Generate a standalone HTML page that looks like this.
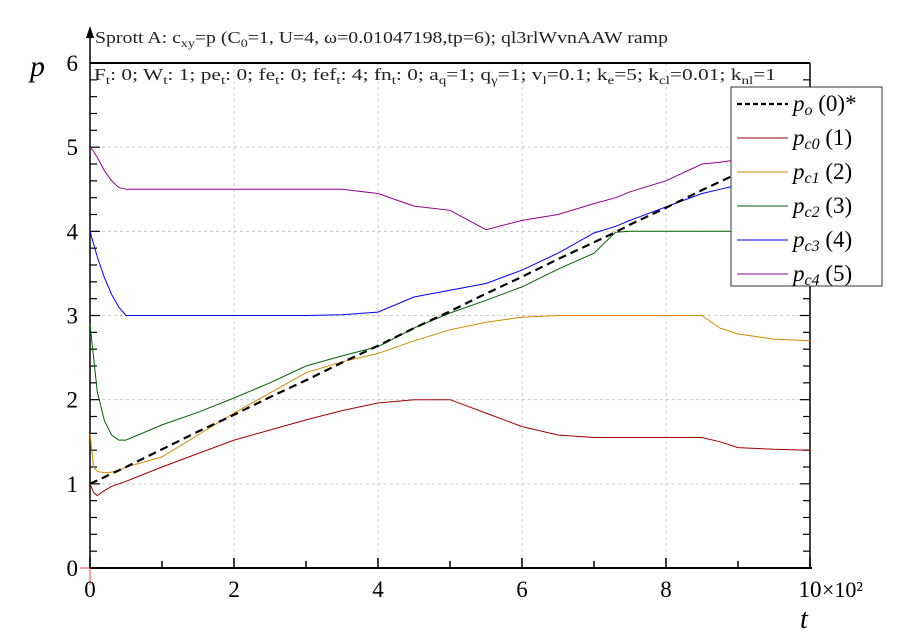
<!DOCTYPE html>
<html><head><meta charset="utf-8"><style>
body{margin:0;background:#fff}
svg{display:block;font-family:"Liberation Serif",serif}
</style></head><body>
<svg width="900" height="633" viewBox="0 0 900 633">
<g id="grid"></g>
<g id="axes"></g>
<g id="series"></g>
<text x="95" y="43" font-size="17" fill="#222" textLength="573" lengthAdjust="spacingAndGlyphs">Sprott A: c<tspan font-size="12" dy="4">xy</tspan><tspan dy="-4">=p (C</tspan><tspan font-size="12" dy="4">0</tspan><tspan dy="-4">=1, U=4, ω=0.01047198,tp=6); ql3rlWvnAAW ramp</tspan></text>
<text x="94" y="80" font-size="17" fill="#222" textLength="682" lengthAdjust="spacingAndGlyphs">F<tspan font-size="12" dy="4">t</tspan><tspan dy="-4">: 0; W</tspan><tspan font-size="12" dy="4">t</tspan><tspan dy="-4">: 1; pe</tspan><tspan font-size="12" dy="4">t</tspan><tspan dy="-4">: 0; fe</tspan><tspan font-size="12" dy="4">t</tspan><tspan dy="-4">: 0; fef</tspan><tspan font-size="12" dy="4">t</tspan><tspan dy="-4">: 4; fn</tspan><tspan font-size="12" dy="4">t</tspan><tspan dy="-4">: 0; a</tspan><tspan font-size="12" dy="4">q</tspan><tspan dy="-4">=1; q</tspan><tspan font-size="12" dy="4">γ</tspan><tspan dy="-4">=1; v</tspan><tspan font-size="12" dy="4">l</tspan><tspan dy="-4">=0.1; k</tspan><tspan font-size="12" dy="4">e</tspan><tspan dy="-4">=5; k</tspan><tspan font-size="12" dy="4">cl</tspan><tspan dy="-4">=0.01; k</tspan><tspan font-size="12" dy="4">nl</tspan><tspan dy="-4">=1</tspan></text>
<text x="30" y="76" font-size="30" font-style="italic">p</text>
<text x="800" y="628" font-size="28" font-style="italic">t</text>
<g>
<rect x="731" y="87" width="151" height="199" fill="#fff" stroke="#333" stroke-width="1"/>
<g id="legend-items"></g>
</g>
</svg>
<script>
const tValues=[0,0.05,0.1,0.2,0.3,0.4,0.5,1,1.5,2,2.5,3,3.5,4,4.5,5,5.5,6,6.5,7,7.3,7.5,8,8.5,8.75,9,9.5,10];
const po=[1,1.02,1.04,1.08,1.12,1.16,1.2,1.41,1.62,1.82,2.03,2.23,2.44,2.64,2.85,3.05,3.26,3.46,3.67,3.87,3.99,4.08,4.28,4.49,4.59,4.69,4.9,5.1];
const pc0=[1.0,0.9,0.86,0.92,0.97,1.0,1.03,1.2,1.36,1.52,1.64,1.76,1.87,1.96,2.0,2.0,1.84,1.68,1.58,1.55,1.55,1.55,1.55,1.55,1.5,1.43,1.41,1.4];
const pc1=[1.6,1.2,1.15,1.13,1.14,1.16,1.2,1.32,1.58,1.84,2.08,2.32,2.45,2.55,2.7,2.83,2.92,2.98,3.0,3.0,3.0,3.0,3.0,3.0,2.85,2.78,2.72,2.7];
const pc2=[2.9,2.5,2.1,1.75,1.58,1.52,1.52,1.7,1.85,2.02,2.2,2.4,2.52,2.63,2.85,3.03,3.18,3.34,3.55,3.74,3.99,4.0,4.0,4.0,4.0,4.0,4.0,4.0];
const pc3=[4.0,3.85,3.7,3.45,3.25,3.1,3.0,3.0,3.0,3.0,3.0,3.0,3.01,3.04,3.22,3.3,3.38,3.54,3.74,3.98,4.06,4.13,4.29,4.45,4.5,4.55,4.6,4.65];
const pc4=[5.0,4.95,4.88,4.72,4.6,4.52,4.5,4.5,4.5,4.5,4.5,4.5,4.5,4.45,4.3,4.25,4.02,4.13,4.2,4.33,4.4,4.47,4.6,4.8,4.82,4.85,4.9,4.95];
const xTickLabels=["0","2","4","6","8","10"];
const yTickLabels=["0","1","2","3","4","5","6"];
const legendLabels=[["o","(0)*"],["c0","(1)"],["c1","(2)"],["c2","(3)"],["c3","(4)"],["c4","(5)"]];

const NS="http://www.w3.org/2000/svg";
const X0=90,X1=810,Y0=568,Y1=63;
function xs(t){return X0+(X1-X0)*t/10;}
function ys(p){return Y0-(Y0-Y1)*p/6;}
function mk(tag,attrs,parent){const e=document.createElementNS(NS,tag);for(const k in attrs)e.setAttribute(k,attrs[k]);parent.appendChild(e);return e;}
const grid=document.getElementById('grid'),axes=document.getElementById('axes'),ser=document.getElementById('series');
for(let i=1;i<5;i++){
 const g=mk('line',{x1:xs(i*2),x2:xs(i*2),y1:Y1,y2:Y0,stroke:'#c8c8c8','stroke-dasharray':'3,3'},grid);
 
 
}
for(let i=1;i<6;i++){
 const g=mk('line',{x1:X0,x2:X1,y1:ys(i),y2:ys(i),stroke:'#c8c8c8','stroke-dasharray':'3,3'},grid);
 
 
}
mk('line',{x1:X0,x2:X1,y1:Y1,y2:Y1,stroke:'#000','stroke-width':2},axes);
mk('line',{x1:X1,x2:X1,y1:Y1,y2:Y0,stroke:'#000','stroke-width':1.5},axes);
mk('line',{x1:X0,x2:X1+2,y1:Y0,y2:Y0,stroke:'#000','stroke-width':2},axes);
mk('line',{x1:X0,x2:X0,y1:Y0,y2:30,stroke:'#000','stroke-width':1.5},axes);
mk('path',{d:`M${X0-4},38 L${X0},26 L${X0+4},38 Z`,fill:'#000'},axes);
mk('line',{x1:80,x2:X0,y1:Y0,y2:Y0,stroke:'#f44','stroke-width':1},axes);
mk('line',{x1:X0,x2:X0,y1:Y0,y2:585,stroke:'#f44','stroke-width':1},axes);
for(let i=0;i<=10;i++){
 const len=i%2===0?10:7;
 mk('line',{x1:xs(i),x2:xs(i),y1:Y0,y2:Y0-len,stroke:'#000','stroke-width':1.5},axes);
}
xTickLabels.forEach((l,i)=>{
 const tx=mk('text',{x:xs(i*2),y:597,'font-size':23,'text-anchor':'middle'},axes);
 tx.textContent=l;
 
 
});
const ex=mk('text',{x:xs(10)+12,y:597,'font-size':22},axes);ex.textContent='×10²';


for(let i=0;i<=30;i++){
 const len=i%5===0?10:7;
 mk('line',{x1:X0,x2:X0+len,y1:ys(i*0.2),y2:ys(i*0.2),stroke:'#000','stroke-width':1.2},axes);
 mk('line',{x1:X1,x2:X1-len,y1:ys(i*0.2),y2:ys(i*0.2),stroke:'#000','stroke-width':1.2},axes);
}
yTickLabels.forEach((l,i)=>{
 const tx=mk('text',{x:78,y:ys(i)+8,'font-size':23,'text-anchor':'end'},axes);
 tx.textContent=l;
 
 
});
function draw(vals,color,name,dash,w,tmax){
 let d='';
 tValues.forEach((t,i)=>{if(t<=tmax)d+=(d?'L':'M')+xs(t).toFixed(1)+','+ys(vals[i]).toFixed(1);});
 const p=mk('path',{d:d,fill:'none',stroke:color,'stroke-width':w},ser);
 if(dash)p.setAttribute('stroke-dasharray',dash);
 
 
}
const colors=['#000','#a00000','#d08a00','#006400','#0000ff','#900090'];
draw(pc0,colors[1],'series-pc0',null,1,10);
draw(pc1,colors[2],'series-pc1',null,1,10);
draw(pc2,colors[3],'series-pc2',null,1,10);
draw(pc3,colors[4],'series-pc3',null,1,10);
draw(pc4,colors[5],'series-pc4',null,1,10);
draw(po,colors[0],'series-po','8,5',2.2,9);
const li=document.getElementById('legend-items');
legendLabels.forEach((l,i)=>{
 const y=104+i*34;
 const ln=mk('line',{x1:737,x2:788,y1:y,y2:y,stroke:colors[i],'stroke-width':i===0?2.2:1},li);
 if(i===0)ln.setAttribute('stroke-dasharray','5,3');
 const tx=mk('text',{x:793,y:y+7,'font-size':23},li);
 tx.innerHTML='<tspan font-style="italic">p</tspan><tspan font-style="italic" font-size="16" dy="4">'+l[0]+'</tspan><tspan dy="-4"> '+l[1]+'</tspan>';
 
 
});
</script>
</body></html>
